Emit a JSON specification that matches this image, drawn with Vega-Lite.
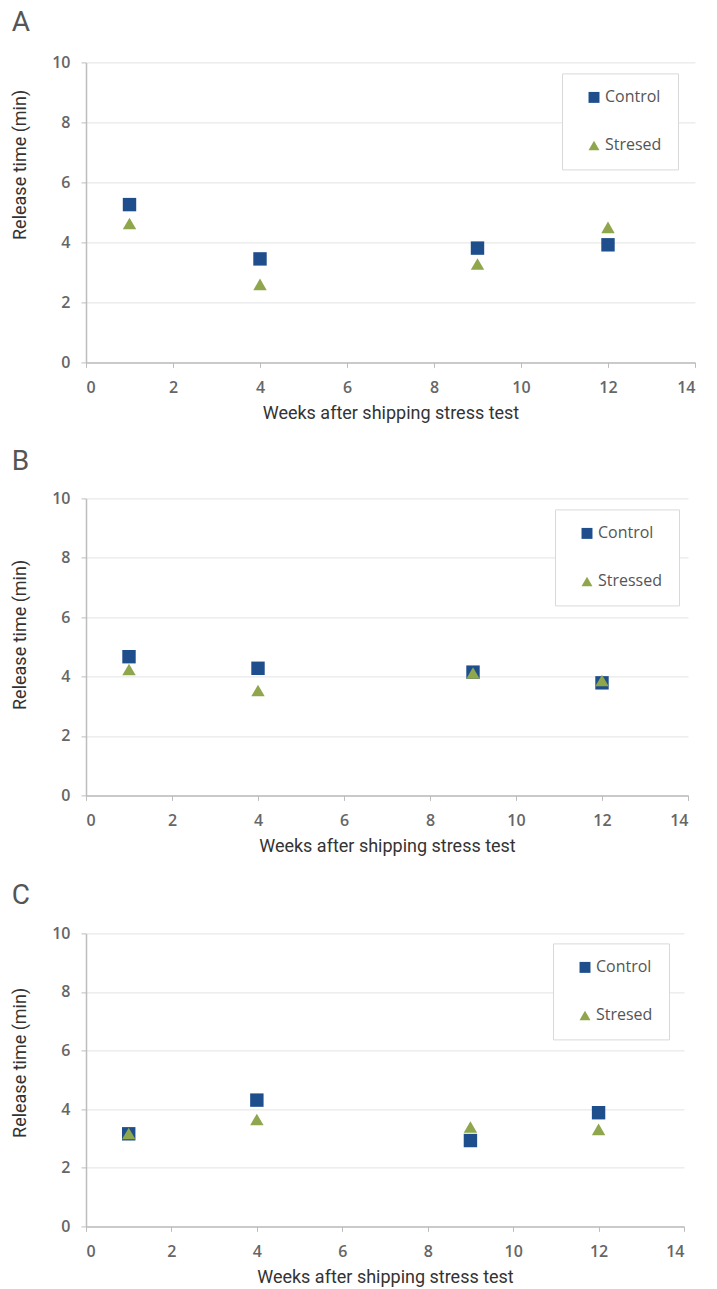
{
  "$schema": "https://vega.github.io/schema/vega-lite/v6.json",
  "padding": {"left": 11, "top": 9.4, "right": 5, "bottom": 2},
  "background": "white",
  "spacing": 26,
  "data": {"values": [
    {"panel": "A", "series": "Control", "week": 1, "time": 5.26},
    {"panel": "A", "series": "Control", "week": 4, "time": 3.45},
    {"panel": "A", "series": "Control", "week": 9, "time": 3.81},
    {"panel": "A", "series": "Control", "week": 12, "time": 3.92},
    {"panel": "A", "series": "Stresed", "week": 1, "time": 4.63},
    {"panel": "A", "series": "Stresed", "week": 4, "time": 2.6},
    {"panel": "A", "series": "Stresed", "week": 9, "time": 3.28},
    {"panel": "A", "series": "Stresed", "week": 12, "time": 4.5},
    {"panel": "B", "series": "Control", "week": 1, "time": 4.67},
    {"panel": "B", "series": "Control", "week": 4, "time": 4.28},
    {"panel": "B", "series": "Control", "week": 9, "time": 4.15},
    {"panel": "B", "series": "Control", "week": 12, "time": 3.79},
    {"panel": "B", "series": "Stressed", "week": 1, "time": 4.24},
    {"panel": "B", "series": "Stressed", "week": 4, "time": 3.53},
    {"panel": "B", "series": "Stressed", "week": 9, "time": 4.12},
    {"panel": "B", "series": "Stressed", "week": 12, "time": 3.87},
    {"panel": "C", "series": "Control", "week": 1, "time": 3.16},
    {"panel": "C", "series": "Control", "week": 4, "time": 4.31},
    {"panel": "C", "series": "Control", "week": 9, "time": 2.93},
    {"panel": "C", "series": "Control", "week": 12, "time": 3.88},
    {"panel": "C", "series": "Stresed", "week": 1, "time": 3.17},
    {"panel": "C", "series": "Stresed", "week": 4, "time": 3.65},
    {"panel": "C", "series": "Stresed", "week": 9, "time": 3.39},
    {"panel": "C", "series": "Stresed", "week": 12, "time": 3.31}
  ]},
  "vconcat": [
    {
      "title": {"text": "A", "offset": 17},
      "width": 609, "height": 300,
      "transform": [{"filter": "datum.panel === 'A'"}],
      "mark": {"type": "point", "filled": true, "size": 180, "opacity": 1},
      "encoding": {
        "x": {"field": "week", "type": "quantitative", "scale": {"domain": [0, 14], "nice": false, "zero": false},
              "axis": {"values": [0, 2, 4, 6, 8, 10, 12, 14], "title": "Weeks after shipping stress test", "grid": false}},
        "y": {"field": "time", "type": "quantitative", "scale": {"domain": [0, 10], "nice": false},
              "axis": {"values": [0, 2, 4, 6, 8, 10], "title": "Release time (min)", "titleY": 102}},
        "color": {"field": "series", "type": "nominal",
                  "scale": {"domain": ["Control", "Stresed"], "range": ["#1f4e8c", "#8fa64c"]},
                  "legend": {"legendX": 476, "legendY": 11}},
        "shape": {"field": "series", "type": "nominal",
                  "scale": {"domain": ["Control", "Stresed"], "range": ["square", "triangle-up"]},
                  "legend": {"legendX": 476, "legendY": 11}}
      }
    },
    {
      "title": {"text": "B", "offset": 13.9},
      "width": 602, "height": 297,
      "transform": [{"filter": "datum.panel === 'B'"}],
      "mark": {"type": "point", "filled": true, "size": 180, "opacity": 1},
      "encoding": {
        "x": {"field": "week", "type": "quantitative", "scale": {"domain": [0, 14], "nice": false, "zero": false},
              "axis": {"values": [0, 2, 4, 6, 8, 10, 12, 14], "title": "Weeks after shipping stress test", "grid": false}},
        "y": {"field": "time", "type": "quantitative", "scale": {"domain": [0, 10], "nice": false},
              "axis": {"values": [0, 2, 4, 6, 8, 10], "title": "Release time (min)", "titleY": 136}},
        "color": {"field": "series", "type": "nominal",
                  "scale": {"domain": ["Control", "Stressed"], "range": ["#1f4e8c", "#8fa64c"]},
                  "legend": {"legendX": 469, "legendY": 11}},
        "shape": {"field": "series", "type": "nominal",
                  "scale": {"domain": ["Control", "Stressed"], "range": ["square", "triangle-up"]},
                  "legend": {"legendX": 469, "legendY": 11}}
      }
    },
    {
      "title": {"text": "C", "offset": 15.6},
      "width": 598, "height": 293,
      "transform": [{"filter": "datum.panel === 'C'"}],
      "mark": {"type": "point", "filled": true, "size": 180, "opacity": 1},
      "encoding": {
        "x": {"field": "week", "type": "quantitative", "scale": {"domain": [0, 14], "nice": false, "zero": false},
              "axis": {"values": [0, 2, 4, 6, 8, 10, 12, 14], "title": "Weeks after shipping stress test", "grid": false}},
        "y": {"field": "time", "type": "quantitative", "scale": {"domain": [0, 10], "nice": false},
              "axis": {"values": [0, 2, 4, 6, 8, 10], "title": "Release time (min)", "titleY": 129}},
        "color": {"field": "series", "type": "nominal",
                  "scale": {"domain": ["Control", "Stresed"], "range": ["#1f4e8c", "#8fa64c"]},
                  "legend": {"legendX": 467, "legendY": 10}},
        "shape": {"field": "series", "type": "nominal",
                  "scale": {"domain": ["Control", "Stresed"], "range": ["square", "triangle-up"]},
                  "legend": {"legendX": 467, "legendY": 10}}
      }
    }
  ],
  "resolve": {
    "scale": {"color": "independent", "shape": "independent", "x": "independent", "y": "independent"},
    "legend": {"color": "independent", "shape": "independent"}
  },
  "config": {
    "view": {"stroke": null},
    "title": {"anchor": "start", "frame": "bounds", "font": "Roboto", "fontSize": 28, "fontWeight": "normal", "color": "#555555"},
    "axis": {
      "domainColor": "#bdbdbd", "domainWidth": 1.5,
      "tickColor": "#bdbdbd", "tickSize": 5,
      "gridColor": "#e3e3e3", "gridWidth": 1,
      "labelFont": "Open Sans", "labelFontSize": 16, "labelColor": "#666666", "labelFontWeight": 600,
      "titleFont": "Roboto", "titleFontSize": 18, "titleFontWeight": "normal", "titleColor": "#333333"
    },
    "axisX": {"labelPadding": 12, "titlePadding": 9},
    "axisY": {"labelPadding": 11, "titlePadding": 22},
    "legend": {
      "orient": "none", "title": null, "padding": 16, "rowPadding": 32,
      "strokeColor": "#d9d9d9", "fillColor": "white",
      "labelFont": "Open Sans", "labelFontSize": 16, "labelColor": "#555555",
      "symbolSize": 120, "labelOffset": 3, "symbolOffset": 8
    }
  }
}
